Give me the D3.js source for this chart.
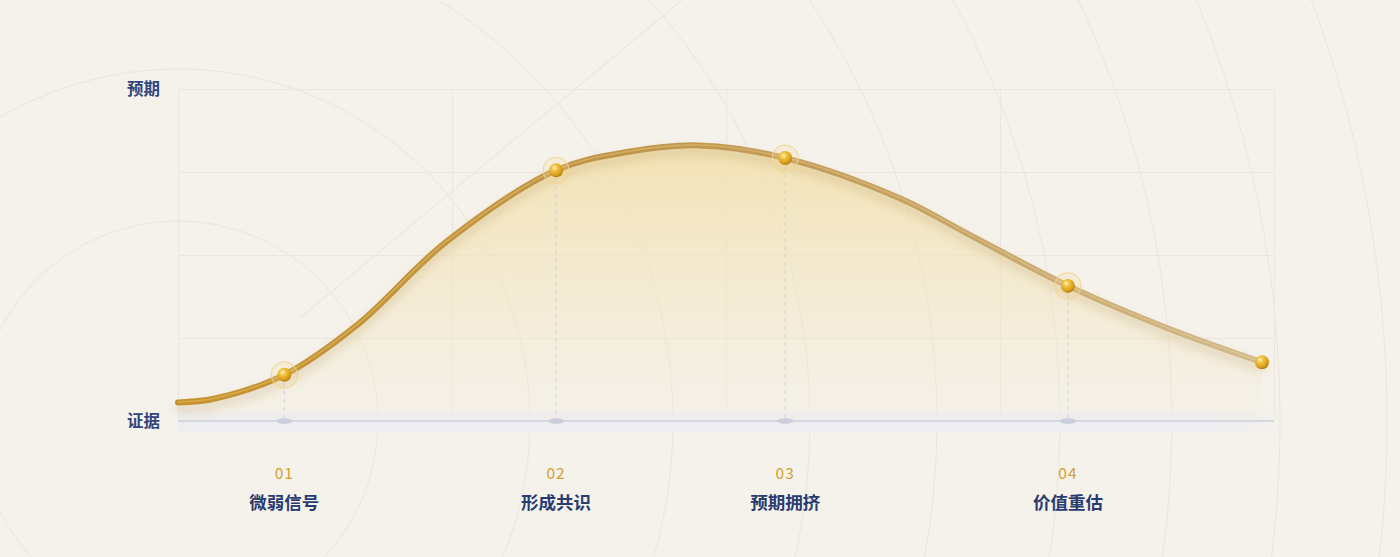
<!DOCTYPE html>
<html><head><meta charset="utf-8">
<script src="https://cdn.jsdelivr.net/npm/d3@7/dist/d3.min.js"></script>
<style>
html,body{margin:0;padding:0;background:#f5f2eb;}
svg{display:block;font-family:"Noto Sans CJK SC","Noto Sans",sans-serif;}
</style></head><body>
<svg id="chart" width="1400" height="557"></svg>
<script>
// ---- data ----
const curveX = [0, 3.3, 9.7, 16.3, 24.5, 34.5, 41.0, 47.5, 55.4, 66.0, 72.1, 81.2, 90.4, 98.9];
const curveY = [5.6, 6.7, 13.9, 28.8, 54.0, 75.5, 81.0, 83.0, 79.2, 66.9, 56.3, 40.7, 27.8, 17.7];
const stageCodes = ["01", "02", "03", "04"];
const stageNames = ["微弱信号", "形成共识", "预期拥挤", "价值重估"];
const stageX = [9.7, 34.5, 55.4, 81.2];
const stageY = [13.9, 75.5, 79.2, 40.7];
const endPoint = [98.9, 17.7];
const yLabels = ["证据", "预期"];
const yLabelValues = [0, 100];
const gridTicks = [0, 25, 50, 75, 100];
const ringRadii = [200, 352, 495, 632, 759, 882, 994, 1102, 1209];

// ---- setup ----
const svg = d3.select("#chart");
const W = 1400, H = 557;
const x = d3.scaleLinear().domain([0, 100]).range([178, 1274]);
const y = d3.scaleLinear().domain([0, 100]).range([421, 89]);

const defs = svg.append("defs");
const areaGrad = defs.append("linearGradient").attr("id","areaGrad")
  .attr("x1",0).attr("y1",0).attr("x2",0).attr("y2",1);
areaGrad.append("stop").attr("offset","0%").attr("stop-color","#f2dea6").attr("stop-opacity",0.8);
areaGrad.append("stop").attr("offset","55%").attr("stop-color","#f3e4bd").attr("stop-opacity",0.5);
areaGrad.append("stop").attr("offset","100%").attr("stop-color","#f3ead6").attr("stop-opacity",0.15);

const lineGrad = defs.append("linearGradient").attr("id","lineGrad")
  .attr("gradientUnits","userSpaceOnUse").attr("x1",178).attr("y1",0).attr("x2",1274).attr("y2",0);
lineGrad.append("stop").attr("offset","0%").attr("stop-color","#c4922e");
lineGrad.append("stop").attr("offset","40%").attr("stop-color","#bf9449");
lineGrad.append("stop").attr("offset","70%").attr("stop-color","#c6a364");
lineGrad.append("stop").attr("offset","100%").attr("stop-color","#d3bb8c");

const hiGrad = defs.append("linearGradient").attr("id","hiGrad")
  .attr("gradientUnits","userSpaceOnUse").attr("x1",178).attr("y1",0).attr("x2",1274).attr("y2",0);
hiGrad.append("stop").attr("offset","0%").attr("stop-color","#e4b450");
hiGrad.append("stop").attr("offset","50%").attr("stop-color","#d9b772");
hiGrad.append("stop").attr("offset","100%").attr("stop-color","#ddc9a0");

const bandGrad = defs.append("linearGradient").attr("id","bandGrad")
  .attr("x1",0).attr("y1",0).attr("x2",1).attr("y2",0);
bandGrad.append("stop").attr("offset","0%").attr("stop-color","#eeedf1").attr("stop-opacity",0.9);
bandGrad.append("stop").attr("offset","92%").attr("stop-color","#eeedf1").attr("stop-opacity",0.9);
bandGrad.append("stop").attr("offset","100%").attr("stop-color","#eeedf1").attr("stop-opacity",0);

const ball = defs.append("radialGradient").attr("id","ball")
  .attr("cx","38%").attr("cy","32%").attr("r","70%");
ball.append("stop").attr("offset","0%").attr("stop-color","#fff6cf");
ball.append("stop").attr("offset","30%").attr("stop-color","#f2c443");
ball.append("stop").attr("offset","75%").attr("stop-color","#d89e1a");
ball.append("stop").attr("offset","100%").attr("stop-color","#b27a12");

const shadow = defs.append("filter").attr("id","shadow")
  .attr("x","-10%").attr("y","-30%").attr("width","120%").attr("height","160%");
shadow.append("feDropShadow").attr("dx",0).attr("dy",6).attr("stdDeviation",5)
  .attr("flood-color","#a47a2c").attr("flood-opacity",0.28);

// ---- background ----
svg.append("rect").attr("width",W).attr("height",H).attr("fill","#f5f2eb");
const cx0 = x(0), cy0 = y(0);
svg.append("g").selectAll("circle").data(ringRadii).join("circle")
  .attr("cx",cx0).attr("cy",cy0).attr("r",d=>d)
  .attr("fill","none").attr("stroke","#e7e2d7").attr("stroke-width",1).attr("opacity",0.8);
svg.append("line").attr("x1",700).attr("y1",-15).attr("x2",300).attr("y2",318)
  .attr("stroke","#e8e3d8").attr("stroke-width",1);

// ---- grid ----
const gridG = svg.append("g");
gridG.append("g").attr("transform",`translate(0,${y(100)})`)
  .call(d3.axisBottom(x).tickValues(gridTicks).tickSize(y(0)-y(100)).tickFormat(""))
  .call(g=>g.select(".domain").remove())
  .call(g=>g.selectAll("line").attr("stroke","#ebe7de"));
gridG.append("g").attr("transform",`translate(${x(0)},0)`)
  .call(d3.axisRight(y).tickValues(gridTicks).tickSize(x(100)-x(0)).tickFormat(""))
  .call(g=>g.select(".domain").remove())
  .call(g=>g.selectAll("line").attr("stroke","#ebe7de"));

// ---- baseline band ----
svg.append("rect").attr("x",x(0)).attr("y",y(0)-10).attr("width",x(100)-x(0)+25).attr("height",22)
  .attr("fill","url(#bandGrad)");

// ---- area + line ----
const pts = curveX.map((d,i)=>[d, curveY[i]]);
const crv = d3.curveCatmullRom.alpha(0.5);
const area = d3.area().x(d=>x(d[0])).y0(y(0)).y1(d=>y(d[1])).curve(crv);
const line = d3.line().x(d=>x(d[0])).y(d=>y(d[1])).curve(crv);
svg.append("path").datum(pts).attr("d",area).attr("fill","url(#areaGrad)");

svg.append("line").attr("x1",x(0)).attr("x2",x(100)).attr("y1",y(0)).attr("y2",y(0))
  .attr("stroke","#cdd0dc").attr("stroke-width",1.5);

const stages = stageX.map((d,i)=>({x:d, y:stageY[i], code:stageCodes[i], name:stageNames[i]}));
svg.append("g").selectAll("line").data(stages).join("line")
  .attr("x1",d=>x(d.x)).attr("x2",d=>x(d.x)).attr("y1",d=>y(d.y)+8).attr("y2",y(0)-2)
  .attr("stroke","#cfd1d8").attr("stroke-width",1).attr("stroke-dasharray","4,4");
svg.append("g").selectAll("ellipse").data(stages).join("ellipse")
  .attr("cx",d=>x(d.x)).attr("cy",y(0)).attr("rx",8).attr("ry",3)
  .attr("fill","#c9cdd9").attr("opacity",0.9);

svg.append("path").datum(pts).attr("d",line).attr("fill","none")
  .attr("stroke","url(#lineGrad)").attr("stroke-width",6).attr("stroke-linecap","round")
  .attr("filter","url(#shadow)");
svg.append("path").datum(pts).attr("d",line).attr("fill","none")
  .attr("stroke","url(#hiGrad)").attr("stroke-width",1.6).attr("opacity",0.7)
  .attr("transform","translate(0,-0.5)");

// ---- markers ----
const mk = svg.append("g").selectAll("g").data(stages).join("g")
  .attr("transform",d=>`translate(${x(d.x)},${y(d.y)})`);
mk.append("circle").attr("r",13).attr("fill","#f5dc9c").attr("fill-opacity",0.22)
  .attr("stroke","#f0d490").attr("stroke-width",1.2).attr("stroke-opacity",0.8);
mk.append("circle").attr("r",7).attr("fill","url(#ball)");
svg.append("circle").attr("cx",x(endPoint[0])).attr("cy",y(endPoint[1])).attr("r",7).attr("fill","url(#ball)");

// ---- labels ----
svg.append("g").selectAll("text.code").data(stages).join("text").attr("class","code")
  .attr("x",d=>x(d.x)).attr("y",479).attr("text-anchor","middle")
  .attr("font-size",15.5).attr("fill","#d3a12d").attr("letter-spacing","1px")
  .text(d=>d.code);
svg.append("g").selectAll("text.name").data(stages).join("text").attr("class","name")
  .attr("x",d=>x(d.x)).attr("y",509).attr("text-anchor","middle")
  .attr("font-size",17.5).attr("font-weight",700).attr("fill","#283c70")
  .text(d=>d.name);

svg.append("g").selectAll("text").data(yLabels).join("text")
  .attr("x",160).attr("y",(d,i)=>y(yLabelValues[i])+6).attr("text-anchor","end")
  .attr("font-size",16.5).attr("font-weight",700).attr("fill","#32457c")
  .text(d=>d);
</script>
</body></html>
